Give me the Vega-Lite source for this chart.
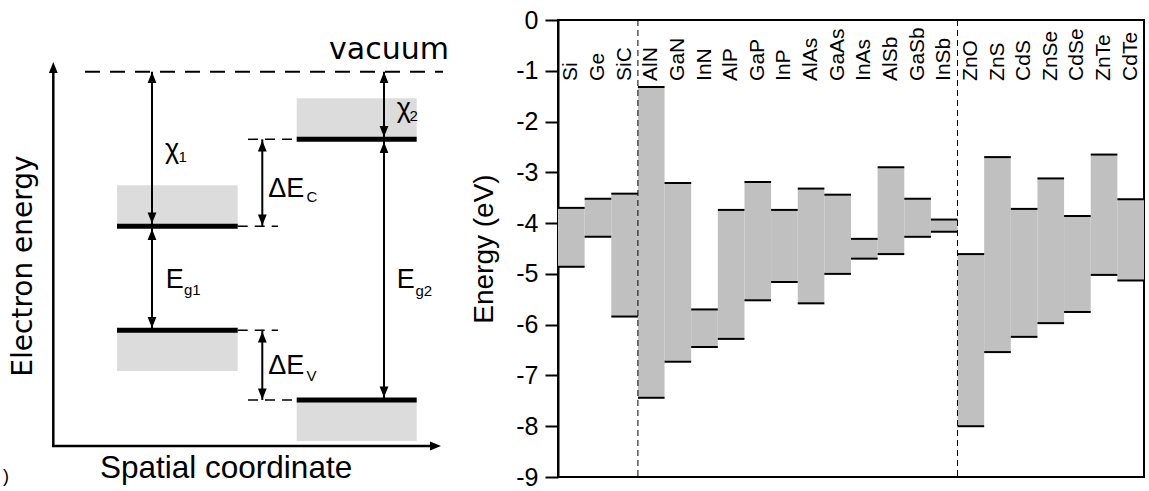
{
  "$schema": "https://vega.github.io/schema/vega-lite/v6.json",
  "padding": {"left": 0, "top": 7, "right": 0, "bottom": 0},
  "bounds": "flush",
  "spacing": 98,
  "config": {"font": "Liberation Sans", "view": {"stroke": null}},
  "datasets": {
    "boxes": [
      {"x1": 11.7, "x2": 23.77, "y1": 29.17, "y2": 25.1},
      {"x1": 11.7, "x2": 23.77, "y1": 14.7, "y2": 10.6},
      {"x1": 29.67, "x2": 41.67, "y1": 37.87, "y2": 33.9},
      {"x1": 29.67, "x2": 41.67, "y1": 7.7, "y2": 3.6}
    ],
    "bands": [
      {"x1": 11.7, "x2": 23.77, "y": 25.07},
      {"x1": 11.7, "x2": 23.77, "y": 14.67},
      {"x1": 29.67, "x2": 41.67, "y": 33.77},
      {"x1": 29.67, "x2": 41.67, "y": 7.7}
    ],
    "vacuum": [{"x1": 8.5, "x2": 44.3, "y": 40.53}],
    "ext": [
      {"x1": 23.77, "x2": 27.8, "y": 25.07},
      {"x1": 23.77, "x2": 27.8, "y": 14.67},
      {"x1": 24.8, "x2": 29.67, "y": 33.77},
      {"x1": 24.8, "x2": 29.67, "y": 7.7}
    ],
    "shafts": [
      {"x": 15.2, "y1": 40.53, "y2": 25.07},
      {"x": 15.2, "y1": 25.07, "y2": 14.67},
      {"x": 38.4, "y1": 40.53, "y2": 33.77},
      {"x": 38.4, "y1": 33.77, "y2": 7.7},
      {"x": 26.23, "y1": 33.77, "y2": 25.07},
      {"x": 26.23, "y1": 14.67, "y2": 7.7}
    ],
    "axes": [
      {"x1": 5.33, "x2": 5.33, "y1": 3.0, "y2": 41.0},
      {"x1": 5.2, "x2": 43.6, "y1": 3.1, "y2": 3.1}
    ],
    "up": [
      {"x": 15.2, "y": 40.5},
      {"x": 15.2, "y": 24.8},
      {"x": 38.4, "y": 40.5},
      {"x": 38.4, "y": 33.5},
      {"x": 26.23, "y": 33.65},
      {"x": 26.23, "y": 14.55},
      {"x": 5.33, "y": 41.5}
    ],
    "down": [
      {"x": 15.2, "y": 25.35},
      {"x": 15.2, "y": 14.9},
      {"x": 38.4, "y": 34.0},
      {"x": 38.4, "y": 7.95},
      {"x": 26.23, "y": 25.15},
      {"x": 26.23, "y": 7.75}
    ],
    "right": [{"x": 44.1, "y": 3.1}],
    "sym": [
      {"t": "χ", "x": 16.5, "y": 31.9},
      {"t": "χ", "x": 39.67, "y": 36.0},
      {"t": "ΔE", "x": 26.83, "y": 28.03},
      {"t": "ΔE", "x": 26.83, "y": 10.27},
      {"t": "E", "x": 16.57, "y": 18.93},
      {"t": "E", "x": 39.67, "y": 18.87}
    ],
    "sub": [
      {"t": "1", "x": 17.85, "y": 31.5},
      {"t": "2", "x": 40.95, "y": 35.65},
      {"t": "C", "x": 30.65, "y": 27.53},
      {"t": "V", "x": 30.65, "y": 9.6},
      {"t": "g1", "x": 18.4, "y": 18.17},
      {"t": "g2", "x": 41.55, "y": 18.1}
    ],
    "vac": [{"t": "vacuum", "x": 32.9, "y": 41.77}],
    "spatial": [{"t": "Spatial coordinate", "x": 10.0, "y": -0.1}],
    "paren": [{"t": ")", "x": 0.3, "y": -0.5}],
    "elec": [{"t": "Electron energy", "x": 2.35, "y": 21.1}],
    "mat": [
      {"name": "Si", "cb": -3.70, "vb": -4.86},
      {"name": "Ge", "cb": -3.52, "vb": -4.27},
      {"name": "SiC", "cb": -3.42, "vb": -5.84},
      {"name": "AlN", "cb": -1.32, "vb": -7.44},
      {"name": "GaN", "cb": -3.21, "vb": -6.73},
      {"name": "InN", "cb": -5.70, "vb": -6.44},
      {"name": "AlP", "cb": -3.74, "vb": -6.28},
      {"name": "GaP", "cb": -3.19, "vb": -5.52},
      {"name": "InP", "cb": -3.74, "vb": -5.16},
      {"name": "AlAs", "cb": -3.32, "vb": -5.58},
      {"name": "GaAs", "cb": -3.44, "vb": -5.00},
      {"name": "InAs", "cb": -4.31, "vb": -4.70},
      {"name": "AlSb", "cb": -2.90, "vb": -4.61},
      {"name": "GaSb", "cb": -3.52, "vb": -4.27},
      {"name": "InSb", "cb": -3.93, "vb": -4.17},
      {"name": "ZnO", "cb": -4.61, "vb": -8.00},
      {"name": "ZnS", "cb": -2.70, "vb": -6.54},
      {"name": "CdS", "cb": -3.72, "vb": -6.24},
      {"name": "ZnSe", "cb": -3.12, "vb": -5.97},
      {"name": "CdSe", "cb": -3.86, "vb": -5.75},
      {"name": "ZnTe", "cb": -2.65, "vb": -5.02},
      {"name": "CdTe", "cb": -3.53, "vb": -5.13}
    ],
    "groups": [{"name": "AlN"}, {"name": "ZnO"}]
  },
  "hconcat": [
    {
      "width": 460,
      "height": 457,
      "layer": [
        {
          "data": {"name": "boxes"},
          "mark": {"type": "rect", "color": "#dcdcdc"},
          "encoding": {
            "x": {"field": "x1", "type": "quantitative", "scale": {"domain": [0, 46], "nice": false, "zero": false}, "axis": null},
            "x2": {"field": "x2"},
            "y": {"field": "y1", "type": "quantitative", "scale": {"domain": [0, 45.7], "nice": false, "zero": false}, "axis": null},
            "y2": {"field": "y2"}
          }
        },
        {
          "data": {"name": "bands"},
          "mark": {"type": "rule", "color": "black", "strokeWidth": 5},
          "encoding": {
            "x": {"field": "x1", "type": "quantitative", "scale": {"domain": [0, 46], "nice": false, "zero": false}, "axis": null},
            "x2": {"field": "x2"},
            "y": {"field": "y", "type": "quantitative", "scale": {"domain": [0, 45.7], "nice": false, "zero": false}, "axis": null}
          }
        },
        {
          "data": {"name": "vacuum"},
          "mark": {"type": "rule", "color": "black", "strokeWidth": 2, "strokeDash": [15, 10]},
          "encoding": {
            "x": {"field": "x1", "type": "quantitative", "scale": {"domain": [0, 46], "nice": false, "zero": false}, "axis": null},
            "x2": {"field": "x2"},
            "y": {"field": "y", "type": "quantitative", "scale": {"domain": [0, 45.7], "nice": false, "zero": false}, "axis": null}
          }
        },
        {
          "data": {"name": "ext"},
          "mark": {"type": "rule", "color": "black", "strokeWidth": 1.5, "strokeDash": [10, 7]},
          "encoding": {
            "x": {"field": "x1", "type": "quantitative", "scale": {"domain": [0, 46], "nice": false, "zero": false}, "axis": null},
            "x2": {"field": "x2"},
            "y": {"field": "y", "type": "quantitative", "scale": {"domain": [0, 45.7], "nice": false, "zero": false}, "axis": null}
          }
        },
        {
          "data": {"name": "shafts"},
          "mark": {"type": "rule", "color": "black", "strokeWidth": 2},
          "encoding": {
            "x": {"field": "x", "type": "quantitative", "scale": {"domain": [0, 46], "nice": false, "zero": false}, "axis": null},
            "y": {"field": "y1", "type": "quantitative", "scale": {"domain": [0, 45.7], "nice": false, "zero": false}, "axis": null},
            "y2": {"field": "y2"}
          }
        },
        {
          "data": {"name": "axes"},
          "mark": {"type": "rule", "color": "black", "strokeWidth": 2.5},
          "encoding": {
            "x": {"field": "x1", "type": "quantitative", "scale": {"domain": [0, 46], "nice": false, "zero": false}, "axis": null},
            "x2": {"field": "x2"},
            "y": {"field": "y1", "type": "quantitative", "scale": {"domain": [0, 45.7], "nice": false, "zero": false}, "axis": null},
            "y2": {"field": "y2"}
          }
        },
        {
          "data": {"name": "up"},
          "mark": {"type": "point", "shape": "M0,0L0.8,2L-0.8,2Z", "size": 121, "filled": true, "color": "black", "opacity": 1, "strokeWidth": 0},
          "encoding": {
            "x": {"field": "x", "type": "quantitative", "scale": {"domain": [0, 46], "nice": false, "zero": false}, "axis": null},
            "y": {"field": "y", "type": "quantitative", "scale": {"domain": [0, 45.7], "nice": false, "zero": false}, "axis": null}
          }
        },
        {
          "data": {"name": "down"},
          "mark": {"type": "point", "shape": "M0,0L0.8,-2L-0.8,-2Z", "size": 121, "filled": true, "color": "black", "opacity": 1, "strokeWidth": 0},
          "encoding": {
            "x": {"field": "x", "type": "quantitative", "scale": {"domain": [0, 46], "nice": false, "zero": false}, "axis": null},
            "y": {"field": "y", "type": "quantitative", "scale": {"domain": [0, 45.7], "nice": false, "zero": false}, "axis": null}
          }
        },
        {
          "data": {"name": "right"},
          "mark": {"type": "point", "shape": "M0,0L-2,0.8L-2,-0.8Z", "size": 121, "filled": true, "color": "black", "opacity": 1, "strokeWidth": 0},
          "encoding": {
            "x": {"field": "x", "type": "quantitative", "scale": {"domain": [0, 46], "nice": false, "zero": false}, "axis": null},
            "y": {"field": "y", "type": "quantitative", "scale": {"domain": [0, 45.7], "nice": false, "zero": false}, "axis": null}
          }
        },
        {
          "data": {"name": "sym"},
          "mark": {"type": "text", "font": "Liberation Sans", "fontSize": 27, "align": "left", "baseline": "alphabetic", "color": "black"},
          "encoding": {
            "x": {"field": "x", "type": "quantitative", "scale": {"domain": [0, 46], "nice": false, "zero": false}, "axis": null},
            "y": {"field": "y", "type": "quantitative", "scale": {"domain": [0, 45.7], "nice": false, "zero": false}, "axis": null},
            "text": {"field": "t"}
          }
        },
        {
          "data": {"name": "sub"},
          "mark": {"type": "text", "font": "Liberation Sans", "fontSize": 15, "align": "left", "baseline": "alphabetic", "color": "black"},
          "encoding": {
            "x": {"field": "x", "type": "quantitative", "scale": {"domain": [0, 46], "nice": false, "zero": false}, "axis": null},
            "y": {"field": "y", "type": "quantitative", "scale": {"domain": [0, 45.7], "nice": false, "zero": false}, "axis": null},
            "text": {"field": "t"}
          }
        },
        {
          "data": {"name": "vac"},
          "mark": {"type": "text", "font": "DejaVu Sans", "fontSize": 30, "align": "left", "baseline": "alphabetic", "color": "black"},
          "encoding": {
            "x": {"field": "x", "type": "quantitative", "scale": {"domain": [0, 46], "nice": false, "zero": false}, "axis": null},
            "y": {"field": "y", "type": "quantitative", "scale": {"domain": [0, 45.7], "nice": false, "zero": false}, "axis": null},
            "text": {"field": "t"}
          }
        },
        {
          "data": {"name": "spatial"},
          "mark": {"type": "text", "font": "Liberation Sans", "fontSize": 31.5, "align": "left", "baseline": "alphabetic", "color": "black"},
          "encoding": {
            "x": {"field": "x", "type": "quantitative", "scale": {"domain": [0, 46], "nice": false, "zero": false}, "axis": null},
            "y": {"field": "y", "type": "quantitative", "scale": {"domain": [0, 45.7], "nice": false, "zero": false}, "axis": null},
            "text": {"field": "t"}
          }
        },
        {
          "data": {"name": "paren"},
          "mark": {"type": "text", "font": "Liberation Sans", "fontSize": 18, "align": "left", "baseline": "alphabetic", "color": "black"},
          "encoding": {
            "x": {"field": "x", "type": "quantitative", "scale": {"domain": [0, 46], "nice": false, "zero": false}, "axis": null},
            "y": {"field": "y", "type": "quantitative", "scale": {"domain": [0, 45.7], "nice": false, "zero": false}, "axis": null},
            "text": {"field": "t"}
          }
        },
        {
          "data": {"name": "elec"},
          "mark": {"type": "text", "font": "DejaVu Sans", "fontSize": 28, "align": "center", "baseline": "middle", "angle": 270, "color": "black"},
          "encoding": {
            "x": {"field": "x", "type": "quantitative", "scale": {"domain": [0, 46], "nice": false, "zero": false}, "axis": null},
            "y": {"field": "y", "type": "quantitative", "scale": {"domain": [0, 45.7], "nice": false, "zero": false}, "axis": null},
            "text": {"field": "t"}
          }
        }
      ]
    },
    {
      "width": 586,
      "height": 457,
      "view": {"stroke": "black", "strokeWidth": 2},
      "layer": [
        {
          "data": {"name": "mat"},
          "mark": {"type": "bar", "color": "#c0c0c0"},
          "encoding": {
            "x": {"field": "name", "type": "nominal", "sort": null, "scale": {"domain": ["Si","Ge","SiC","AlN","GaN","InN","AlP","GaP","InP","AlAs","GaAs","InAs","AlSb","GaSb","InSb","ZnO","ZnS","CdS","ZnSe","CdSe","ZnTe","CdTe"], "paddingInner": 0, "paddingOuter": 0}, "axis": null},
            "y": {
              "field": "cb", "type": "quantitative",
              "scale": {"domain": [-9, 0], "nice": false, "zero": false},
              "axis": {
                "title": "Energy (eV)",
                "values": [0, -1, -2, -3, -4, -5, -6, -7, -8, -9],
                "labelExpr": "'' + datum.value",
                "grid": false,
                "tickSize": 13, "tickWidth": 2, "tickColor": "black",
                "domainColor": "black", "domainWidth": 2,
                "labelFont": "Liberation Sans", "labelFontSize": 25, "labelColor": "black", "labelPadding": 7,
                "titleFont": "Liberation Sans", "titleFontSize": 28, "titleFontWeight": "normal", "titleColor": "black", "titlePadding": 17
              }
            },
            "y2": {"field": "vb"}
          }
        },
        {
          "data": {"name": "mat"},
          "mark": {"type": "tick", "color": "black", "thickness": 2, "size": 26.6, "opacity": 1},
          "encoding": {
            "x": {"field": "name", "type": "nominal", "sort": null},
            "y": {"field": "cb", "type": "quantitative"}
          }
        },
        {
          "data": {"name": "mat"},
          "mark": {"type": "tick", "color": "black", "thickness": 2, "size": 26.6, "opacity": 1},
          "encoding": {
            "x": {"field": "name", "type": "nominal", "sort": null},
            "y": {"field": "vb", "type": "quantitative"}
          }
        },
        {
          "data": {"name": "groups"},
          "mark": {"type": "rule", "color": "black", "strokeWidth": 1, "strokeDash": [6, 4]},
          "encoding": {
            "x": {"field": "name", "type": "nominal", "sort": null, "bandPosition": 0}
          }
        },
        {
          "data": {"name": "mat"},
          "mark": {"type": "text", "font": "Liberation Sans", "fontSize": 21, "angle": 270, "align": "left", "baseline": "middle", "color": "black"},
          "encoding": {
            "x": {"field": "name", "type": "nominal", "sort": null},
            "y": {"datum": -1.2},
            "text": {"field": "name"}
          }
        }
      ]
    }
  ]
}
